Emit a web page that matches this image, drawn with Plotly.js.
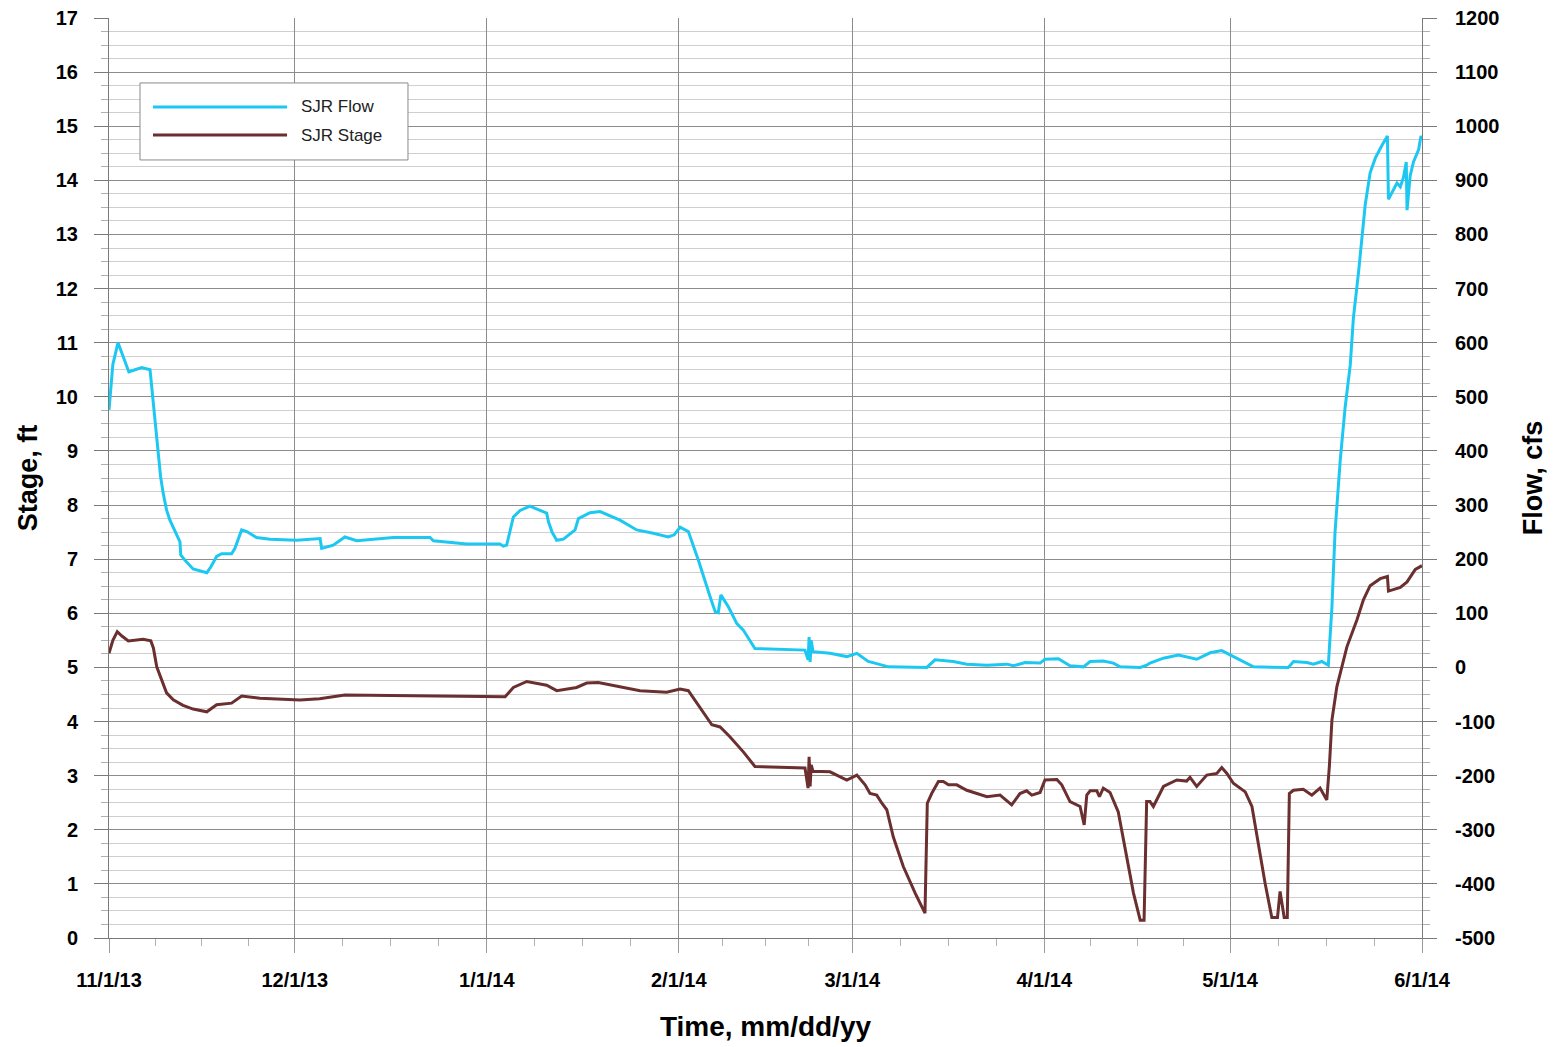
<!DOCTYPE html>
<html>
<head>
<meta charset="utf-8">
<script src="https://cdn.plot.ly/plotly-3.0.1.min.js"></script>
<style>
  html, body { margin: 0; padding: 0; background: #ffffff; }
  #chart { width: 1555px; height: 1047px; }
</style>
</head>
<body>
<div id="chart"></div>
<script>
// ---- Data ----
const flowTime = [
  "2013-11-01 00:00","2013-11-01 15:00","2013-11-02 11:00","2013-11-04 05:00","2013-11-05 05:00",
  "2013-11-06 07:00","2013-11-07 15:00","2013-11-08 02:00","2013-11-08 23:00","2013-11-09 08:00",
  "2013-11-09 18:00","2013-11-10 07:00","2013-11-10 20:00","2013-11-11 16:00","2013-11-12 11:00",
  "2013-11-12 14:00","2013-11-13 10:00","2013-11-14 14:00","2013-11-15 17:00","2013-11-16 19:00",
  "2013-11-17 11:00","2013-11-18 09:00","2013-11-19 05:00","2013-11-20 19:00","2013-11-21 08:00",
  "2013-11-22 10:00","2013-11-23 06:00","2013-11-24 20:00","2013-11-27 00:00","2013-12-01 07:00",
  "2013-12-05 02:00","2013-12-05 08:00","2013-12-07 05:00","2013-12-09 02:00","2013-12-11 00:00",
  "2013-12-14 06:00","2013-12-16 22:00","2013-12-22 20:00","2013-12-23 09:00","2013-12-28 18:00",
  "2014-01-03 03:00","2014-01-03 16:00","2014-01-04 05:00","2014-01-05 07:00","2014-01-06 09:00",
  "2014-01-07 23:00","2014-01-09 21:00","2014-01-10 16:00","2014-01-10 23:00","2014-01-11 13:00",
  "2014-01-12 07:00","2014-01-13 09:00","2014-01-15 06:00","2014-01-15 19:00","2014-01-17 16:00",
  "2014-01-19 07:00","2014-01-22 12:00","2014-01-25 05:00","2014-01-27 21:00","2014-01-30 07:00",
  "2014-01-31 06:00","2014-02-01 05:00","2014-02-02 13:00","2014-02-04 04:00","2014-02-06 01:00",
  "2014-02-06 21:00","2014-02-07 09:00","2014-02-07 19:00","2014-02-09 00:00","2014-02-10 09:00",
  "2014-02-11 10:00","2014-02-13 07:00","2014-02-21 09:00","2014-02-21 21:00","2014-02-22 01:00",
  "2014-02-22 05:00","2014-02-22 09:00","2014-02-22 16:00","2014-02-25 10:00","2014-02-28 03:00",
  "2014-03-01 18:00","2014-03-03 14:00","2014-03-04 23:00","2014-03-06 20:00","2014-03-13 01:00",
  "2014-03-14 09:00","2014-03-17 08:00","2014-03-19 12:00","2014-03-22 18:00","2014-03-25 23:00",
  "2014-03-27 01:00","2014-03-28 22:00","2014-03-31 08:00","2014-04-01 03:00","2014-04-03 07:00",
  "2014-04-05 04:00","2014-04-07 08:00","2014-04-08 10:00","2014-04-10 13:00","2014-04-12 04:00",
  "2014-04-13 06:00","2014-04-16 12:00","2014-04-17 13:00","2014-04-18 02:00","2014-04-20 06:00",
  "2014-04-22 16:00","2014-04-25 15:00","2014-04-27 19:00","2014-04-29 16:00","2014-05-01 13:00",
  "2014-05-04 19:00","2014-05-10 10:00","2014-05-11 06:00","2014-05-13 10:00","2014-05-14 11:00",
  "2014-05-15 20:00","2014-05-16 21:00","2014-05-17 11:00","2014-05-17 23:00","2014-05-18 19:00",
  "2014-05-19 14:00","2014-05-20 10:00","2014-05-20 22:00","2014-05-21 18:00","2014-05-22 07:00",
  "2014-05-22 20:00","2014-05-23 15:00","2014-05-24 11:00","2014-05-25 12:00","2014-05-26 10:00",
  "2014-05-26 14:00","2014-05-27 10:00","2014-05-27 23:00","2014-05-28 12:00","2014-05-29 00:00",
  "2014-05-29 11:00","2014-05-29 14:00","2014-05-30 02:00","2014-05-30 15:00","2014-05-31 11:00",
  "2014-05-31 20:00","2014-06-01 00:00"
];
const flowCfs = [
  476, 560, 600, 546, 550,
  554, 550, 500, 396, 352,
  322, 291, 272, 250, 232,
  208, 196, 182, 178, 175,
  186, 205, 210, 210, 220,
  254, 251, 240, 237, 235,
  238, 220, 226, 241, 234,
  237, 240, 240, 234, 228,
  228, 224, 226, 278, 290,
  298, 288, 285, 269, 250,
  235, 237, 254, 275, 286,
  288, 272, 254, 248, 241,
  245, 259, 251, 198, 131,
  103, 101, 134, 112, 81,
  69, 35, 32, 14, 56,
  10, 50, 29, 26, 20,
  26, 11, 7, 1, 0,
  14, 11, 6, 4, 6,
  3, 9, 8, 15, 16,
  3, 1, 11, 12, 8,
  1, 0, 4, 8, 17,
  23, 15, 27, 31, 20,
  1, 0, 11, 9, 6,
  11, 4, 112, 250, 382,
  480, 559, 645, 730, 796,
  855, 914, 941, 964, 982,
  865, 882, 895, 888, 905,
  934, 845, 908, 934, 957,
  982, 975
];

const stageTime = [
  "2013-11-01 00:00","2013-11-01 15:00","2013-11-02 08:00","2013-11-03 02:00","2013-11-04 03:00",
  "2013-11-06 12:00","2013-11-07 18:00","2013-11-08 04:00","2013-11-08 17:00","2013-11-09 18:00",
  "2013-11-10 07:00","2013-11-11 09:00","2013-11-12 23:00","2013-11-14 14:00","2013-11-16 19:00",
  "2013-11-18 09:00","2013-11-20 19:00","2013-11-22 10:00","2013-11-25 09:00","2013-12-01 20:00",
  "2013-12-05 00:00","2013-12-09 02:00","2013-12-17 00:00","2014-01-03 23:00","2014-01-05 07:00",
  "2014-01-07 11:00","2014-01-10 16:00","2014-01-12 07:00","2014-01-15 12:00","2014-01-17 03:00",
  "2014-01-19 00:00","2014-01-22 12:00","2014-01-25 18:00","2014-01-30 01:00","2014-02-01 05:00",
  "2014-02-02 13:00","2014-02-04 10:00","2014-02-06 08:00","2014-02-07 16:00","2014-02-09 06:00",
  "2014-02-11 10:00","2014-02-13 07:00","2014-02-21 09:00","2014-02-21 21:00","2014-02-22 01:00",
  "2014-02-22 05:00","2014-02-22 09:00","2014-02-22 16:00","2014-02-25 10:00","2014-02-28 03:00",
  "2014-03-01 18:00","2014-03-03 02:00","2014-03-03 21:00","2014-03-04 23:00","2014-03-05 19:00",
  "2014-03-06 14:00","2014-03-07 15:00","2014-03-09 06:00","2014-03-11 04:00","2014-03-12 18:00",
  "2014-03-13 03:00","2014-03-13 20:00","2014-03-14 22:00","2014-03-15 17:00","2014-03-16 13:00",
  "2014-03-17 21:00","2014-03-19 12:00","2014-03-22 18:00","2014-03-24 21:00","2014-03-26 18:00",
  "2014-03-28 02:00","2014-03-29 04:00","2014-03-30 00:00","2014-03-31 08:00","2014-04-01 03:00",
  "2014-04-03 01:00","2014-04-03 20:00","2014-04-05 04:00","2014-04-06 19:00","2014-04-07 11:00",
  "2014-04-07 21:00","2014-04-08 10:00","2014-04-09 12:00","2014-04-09 22:00","2014-04-10 13:00",
  "2014-04-11 15:00","2014-04-12 23:00","2014-04-13 19:00","2014-04-15 10:00","2014-04-16 12:00",
  "2014-04-17 03:00","2014-04-17 13:00","2014-04-18 02:00","2014-04-18 15:00","2014-04-20 06:00",
  "2014-04-22 10:00","2014-04-24 00:00","2014-04-24 13:00","2014-04-25 15:00","2014-04-27 06:00",
  "2014-04-28 21:00","2014-04-29 16:00","2014-04-30 12:00","2014-05-01 13:00","2014-05-03 11:00",
  "2014-05-04 13:00","2014-05-05 08:00","2014-05-06 16:00","2014-05-07 18:00","2014-05-08 16:00",
  "2014-05-09 02:00","2014-05-09 18:00","2014-05-10 06:00","2014-05-10 14:00","2014-05-11 06:00",
  "2014-05-12 20:00","2014-05-14 05:00","2014-05-15 13:00","2014-05-16 15:00","2014-05-17 01:00",
  "2014-05-17 11:00","2014-05-18 06:00","2014-05-19 21:00","2014-05-21 12:00","2014-05-22 13:00",
  "2014-05-23 15:00","2014-05-25 06:00","2014-05-26 10:00","2014-05-26 14:00","2014-05-28 12:00",
  "2014-05-29 14:00","2014-05-30 22:00","2014-06-01 00:00"
];
const stageFt = [
  5.26, 5.50, 5.66, 5.58, 5.49,
  5.52, 5.49, 5.36, 5.01, 4.67,
  4.53, 4.40, 4.30, 4.23, 4.18,
  4.31, 4.34, 4.47, 4.43, 4.40,
  4.42, 4.49, 4.48, 4.46, 4.63,
  4.74, 4.67, 4.57, 4.63, 4.71,
  4.72, 4.64, 4.57, 4.54, 4.60,
  4.57, 4.27, 3.94, 3.90, 3.72,
  3.44, 3.17, 3.14, 2.77, 3.35,
  2.80, 3.20, 3.08, 3.07, 2.92,
  3.01, 2.83, 2.67, 2.64, 2.49,
  2.37, 1.87, 1.32, 0.83, 0.46,
  2.49, 2.67, 2.89, 2.89, 2.83,
  2.83, 2.73, 2.61, 2.64, 2.46,
  2.67, 2.72, 2.64, 2.69, 2.92,
  2.93, 2.83, 2.52, 2.43, 2.09,
  2.64, 2.72, 2.72, 2.61, 2.77,
  2.69, 2.33, 1.81, 0.83, 0.33,
  0.33, 2.52, 2.52, 2.43, 2.80,
  2.92, 2.90, 2.97, 2.80, 3.01,
  3.04, 3.15, 3.04, 2.86, 2.70,
  2.43, 1.87, 1.01, 0.38, 0.38,
  0.86, 0.38, 0.38, 2.67, 2.73,
  2.75, 2.64, 2.77, 2.55, 3.17,
  4.03, 4.64, 5.38, 5.88, 6.25,
  6.51, 6.64, 6.68, 6.41, 6.48,
  6.58, 6.81, 6.88
];

const monthStarts = ["2013-11-01","2013-12-01","2014-01-01","2014-02-01","2014-03-01","2014-04-01","2014-05-01","2014-06-01"];
const monthLabels = ["11/1/13","12/1/13","1/1/14","2/1/14","3/1/14","4/1/14","5/1/14","6/1/14"];
const stageTickVals = [0,1,2,3,4,5,6,7,8,9,10,11,12,13,14,15,16,17];
const flowTickVals = [-500,-400,-300,-200,-100,0,100,200,300,400,500,600,700,800,900,1000,1100,1200];
const flowTickLabels = ["-500","-400","-300","-200","-100","0","100","200","300","400","500","600","700","800","900","1000","1100","1200"];
const seriesNames = ["SJR Flow", "SJR Stage"];

// ---- Styling ----
const FONT = "Liberation Sans, Arial, Helvetica, sans-serif";
const flowColor = "#1cc8f2";
const stageColor = "#6b2f2f";

// minor x ticks: quarters of each month
const minorX = [];
for (let i = 0; i < monthStarts.length - 1; i++) {
  const a = new Date(monthStarts[i] + "T00:00:00Z").getTime();
  const b = new Date(monthStarts[i + 1] + "T00:00:00Z").getTime();
  for (let k = 1; k < 4; k++) {
    const t = new Date(a + (b - a) * k / 4);
    minorX.push(t.toISOString().slice(0, 19).replace("T", " "));
  }
}

const traces = [
  {
    x: flowTime, y: flowCfs, name: seriesNames[0], type: "scatter", mode: "lines",
    yaxis: "y2", line: { color: flowColor, width: 3 }, showlegend: false
  },
  {
    x: stageTime, y: stageFt, name: seriesNames[1], type: "scatter", mode: "lines",
    yaxis: "y", line: { color: stageColor, width: 3 }, showlegend: false
  }
];

// legend drawn as layout decoration (paper coordinates)
const L = { x0: 0.0236, x1: 0.2277, y0: 0.8457, y1: 0.9294 };
const legendRows = [
  { y: 0.9033, color: flowColor, text: seriesNames[0] },
  { y: 0.8728, color: stageColor, text: seriesNames[1] }
];
const shapes = [
  { type: "rect", xref: "paper", yref: "paper", x0: L.x0, x1: L.x1, y0: L.y0, y1: L.y1,
    line: { color: "#8a8a8a", width: 1 }, fillcolor: "#ffffff", layer: "above" }
];
const annotations = [];
legendRows.forEach(r => {
  shapes.push({ type: "line", xref: "paper", yref: "paper", x0: 0.0335, x1: 0.1356, y0: r.y, y1: r.y,
    line: { color: r.color, width: 3 }, layer: "above" });
  annotations.push({ xref: "paper", yref: "paper", x: 0.1447, y: r.y, xanchor: "left", yanchor: "middle",
    text: r.text, showarrow: false, font: { family: FONT, size: 17, color: "#222" } });
});

const layout = {
  width: 1555, height: 1047,
  margin: { l: 109, r: 133, t: 18, b: 109 },
  paper_bgcolor: "#ffffff", plot_bgcolor: "#ffffff",
  font: { family: FONT, color: "#000" },
  showlegend: false,
  xaxis: {
    type: "date",
    range: ["2013-11-01", "2014-06-01"],
    tickmode: "array", tickvals: monthStarts, ticktext: monthLabels,
    ticks: "outside", ticklen: 14, tickcolor: "#9a9a9a", tickwidth: 1,
    showgrid: true, gridcolor: "#8c8c8c", gridwidth: 1,
    showline: true, linecolor: "#7a7a7a", linewidth: 1,
    zeroline: false,
    tickfont: { family: FONT, size: 20, color: "#000", weight: "bold" },
    ticklabelstandoff: 10,
    minor: { tickmode: "array", tickvals: minorX, ticks: "outside", ticklen: 7, tickcolor: "#b0b0b0", showgrid: false },
    title: { text: "<b>Time, mm/dd/yy</b>", font: { family: FONT, size: 28, color: "#000" }, standoff: 26 }
  },
  yaxis: {
    range: [0, 17],
    tickmode: "array", tickvals: stageTickVals,
    ticks: "outside", ticklen: 14, tickcolor: "#7a7a7a", tickwidth: 1,
    showgrid: true, gridcolor: "#8c8c8c", gridwidth: 1,
    showline: true, linecolor: "#7a7a7a", linewidth: 1, mirror: false,
    zeroline: false,
    tickfont: { family: FONT, size: 20, color: "#000", weight: "bold" },
    ticklabelstandoff: 12,
    minor: { tickmode: "linear", tick0: 0, dtick: 0.25, ticks: "outside", ticklen: 7, tickcolor: "#b0b0b0",
      showgrid: true, gridcolor: "#cfcfcf", gridwidth: 1 },
    title: { text: "<b>Stage, ft</b>", font: { family: FONT, size: 27, color: "#000" }, standoff: 10 }
  },
  yaxis2: {
    overlaying: "y", side: "right", anchor: "x",
    range: [-500, 1200],
    tickmode: "array", tickvals: flowTickVals, ticktext: flowTickLabels,
    ticks: "outside", ticklen: 14, tickcolor: "#7a7a7a", tickwidth: 1,
    showgrid: false, zeroline: false,
    showline: true, linecolor: "#7a7a7a", linewidth: 1,
    tickfont: { family: FONT, size: 20, color: "#000", weight: "bold" },
    ticklabelstandoff: 14,
    minor: { tickmode: "linear", tick0: -500, dtick: 25, ticks: "outside", ticklen: 7, tickcolor: "#b0b0b0", showgrid: false },
    title: { text: "<b>Flow, cfs</b>", font: { family: FONT, size: 27, color: "#000" }, standoff: 24 }
  },
  shapes: shapes,
  annotations: annotations
};

Plotly.newPlot("chart", traces, layout, { displayModeBar: false, staticPlot: true });
</script>
</body>
</html>
